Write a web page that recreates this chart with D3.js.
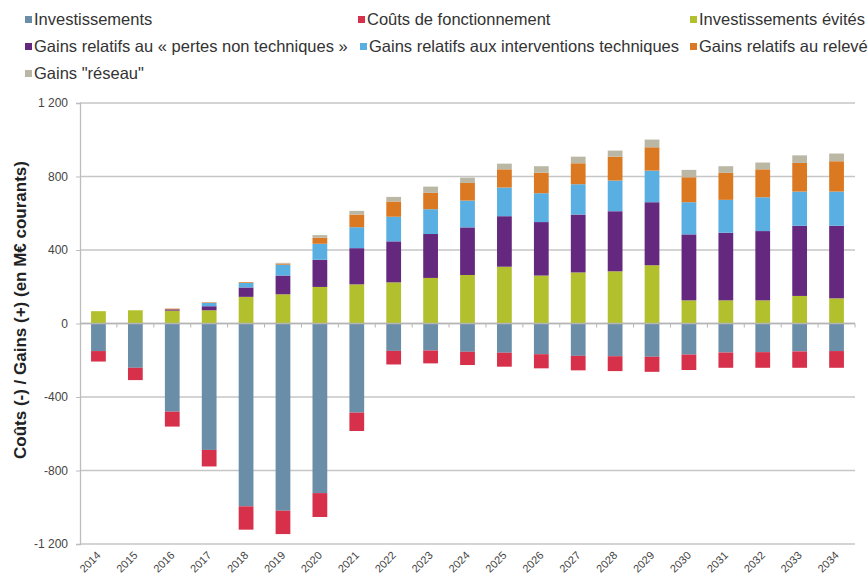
<!DOCTYPE html>
<html>
<head>
<meta charset="utf-8">
<script src="https://cdn.jsdelivr.net/npm/d3@7"></script>
<style>
  body { margin: 0; background: #fff; }
  text { font-family: "Liberation Sans", Arial, sans-serif; }
</style>
</head>
<body>
<div id="chart"></div>
<script>
// years on the x axis
const years = ['2014', '2015', '2016', '2017', '2018', '2019', '2020', '2021', '2022', '2023', '2024',
  '2025', '2026', '2027', '2028', '2029', '2030', '2031', '2032', '2033', '2034']

// costs (negative)
const investissements = [-150, -241, -480, -688, -995, -1019, -923, -485, -149, -147, -154,
  -159, -167, -176, -178, -181, -169, -158, -156, -152, -150]
const couts = [-57, -67, -81, -90, -127, -127, -130, -100, -74, -70, -72,
  -76, -77, -79, -81, -82, -84, -83, -85, -89, -91]

// gains (positive)
const evites = [67, 72, 70, 72, 145, 159, 199, 213, 224, 248, 264,
  309, 261, 278, 284, 317, 126, 126, 126, 150, 137]
const pertes = [0, 0, 7, 22, 51, 102, 148, 197, 223, 239, 259,
  275, 291, 315, 327, 343, 359, 368, 377, 382, 395]
const interventions = [0, 0, 0, 18, 25, 59, 87, 114, 134, 135, 146,
  156, 157, 165, 167, 172, 175, 179, 184, 186, 186]
const releve = [0, 0, 4, 3, 4, 6, 33, 69, 83, 89, 96,
  99, 112, 114, 130, 127, 136, 147, 152, 156, 165]
const reseau = [0, 0, 0, 0, 0, 4, 14, 20, 25, 34, 29,
  31, 35, 36, 33, 42, 40, 36, 37, 41, 42]

const yTicks = [-1200, -800, -400, 0, 400, 800, 1200]

const series = [
  { key: 'inv', label: 'Investissements', values: investissements, color: '#6b8ea8' },
  { key: 'couts', label: 'Coûts de fonctionnement', values: couts, color: '#d6304a' },
  { key: 'evites', label: 'Investissements évités', values: evites, color: '#b3c02d' },
  { key: 'pertes', label: 'Gains relatifs au « pertes non techniques »', values: pertes, color: '#65287f' },
  { key: 'interv', label: 'Gains relatifs aux interventions techniques', values: interventions, color: '#5aafe2' },
  { key: 'releve', label: 'Gains relatifs au relevé', values: releve, color: '#db7822' },
  { key: 'reseau', label: 'Gains "réseau"', values: reseau, color: '#bab7a5' }
]

const width = 868
const height = 578
const margin = { top: 103, right: 13, bottom: 34, left: 80 }

const table = years.map(function (y, i) {
  const row = { year: y }
  series.forEach(function (s) { row[s.key] = s.values[i] })
  return row
})

const stacked = d3.stack()
  .keys(series.map(d => d.key))
  .offset(d3.stackOffsetDiverging)(table)

const svg = d3.select('#chart')
  .append('svg')
  .attr('width', width)
  .attr('height', height)

const x = d3.scaleBand()
  .domain(years)
  .range([margin.left, width - margin.right])
  .paddingInner(0.6)
  .paddingOuter(0.3)

const y = d3.scaleLinear()
  .domain([-1200, 1200])
  .range([height - margin.bottom, margin.top])

// gridlines
svg.append('g')
  .selectAll('line')
  .data(yTicks)
  .enter().append('line')
  .attr('x1', margin.left)
  .attr('x2', width - margin.right)
  .attr('y1', d => y(d))
  .attr('y2', d => y(d))
  .attr('stroke', '#c6c6c6')
  .attr('stroke-width', 1.3)

// left axis
const yAxis = svg.append('g')
  .attr('transform', 'translate(' + margin.left + ',0)')
  .call(d3.axisLeft(y).tickValues(yTicks).tickSize(4).tickPadding(8)
    .tickFormat(d => d3.format(',')(d).replace(',', ' ').replace('−', '-')))
yAxis.select('.domain').attr('stroke', '#bdbdbd').attr('stroke-width', 1.3)
yAxis.selectAll('.tick line').attr('stroke', '#bdbdbd')
yAxis.selectAll('.tick text')
  .attr('fill', '#444')
  .style('font-size', '12px')

// bars
svg.append('g')
  .selectAll('g')
  .data(stacked)
  .enter().append('g')
  .attr('fill', (d, i) => series[i].color)
  .selectAll('rect')
  .data(d => d)
  .enter().append('rect')
  .attr('x', d => x(d.data.year))
  .attr('width', x.bandwidth())
  .attr('y', d => y(Math.max(d[0], d[1])))
  .attr('height', d => Math.abs(y(d[0]) - y(d[1])))

// zero line with small ticks between years
const zero = svg.append('g')
zero.append('line')
  .attr('x1', margin.left)
  .attr('x2', width - margin.right)
  .attr('y1', y(0))
  .attr('y2', y(0))
  .attr('stroke', '#b5b5b5')
  .attr('stroke-width', 1.3)
zero.selectAll('.zt')
  .data(years)
  .enter().append('line')
  .attr('class', 'zt')
  .attr('x1', (d, i) => margin.left + x.step() * (i + 1))
  .attr('x2', (d, i) => margin.left + x.step() * (i + 1))
  .attr('y1', y(0))
  .attr('y2', y(0) + 4)
  .attr('stroke', '#b5b5b5')

// x labels
svg.append('g')
  .selectAll('text')
  .data(years)
  .enter().append('text')
  .attr('transform', d => 'translate(' + (x(d) + x.bandwidth() / 2 + 3) + ',' + (height - 22) + ') rotate(-45)')
  .attr('text-anchor', 'end')
  .attr('fill', '#444')
  .style('font-size', '11px')
  .text(d => d)

// y title
svg.append('text')
  .attr('transform', 'translate(26,' + 310 + ') rotate(-90)')
  .attr('text-anchor', 'middle')
  .attr('fill', '#222')
  .style('font-size', '17px')
  .style('font-weight', 'bold')
  .text('Coûts (-) / Gains (+) (en M€ courants)')

// legend
const legendPos = [
  { x: 25, y: 20 }, { x: 358, y: 20 }, { x: 690, y: 20 },
  { x: 25, y: 47 }, { x: 360, y: 47 }, { x: 690, y: 47 },
  { x: 25, y: 74 }
]
const legend = svg.append('g')
  .selectAll('g')
  .data(series)
  .enter().append('g')
  .attr('transform', (d, i) => 'translate(' + legendPos[i].x + ',' + legendPos[i].y + ')')
legend.append('rect')
  .attr('x', 0)
  .attr('y', -4)
  .attr('width', 7)
  .attr('height', 7)
  .attr('fill', d => d.color)
legend.append('text')
  .attr('x', 9)
  .attr('y', 5)
  .attr('fill', '#333')
  .style('font-size', '16.5px')
  .text(d => d.label)
</script>
</body>
</html>
